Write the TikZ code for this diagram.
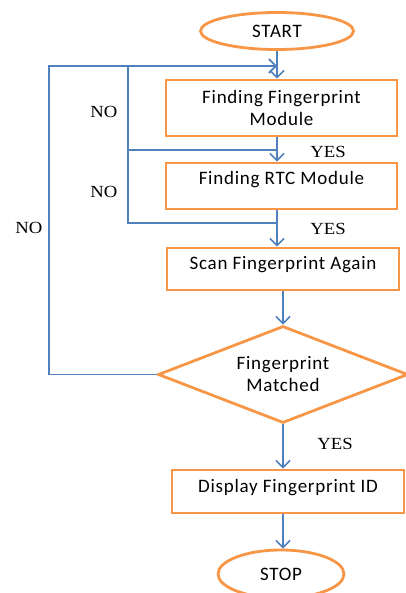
\documentclass[tikz,border=0pt]{standalone}
\usepackage{fontspec}
\setsansfont{Carlito}
\newfontfamily\lblfont{Liberation Serif}
\usetikzlibrary{shapes.geometric,arrows.meta}
\definecolor{flowblue}{HTML}{4F81BD}
\definecolor{floworange}{HTML}{F79646}
\begin{document}
\begin{tikzpicture}[x=0.5pt,y=-0.5pt,
    box/.style={draw=floworange,line width=1.4pt,inner sep=0pt,align=center,
      font=\sffamily\fontsize{9.5}{11}\selectfont\addfontfeature{LetterSpace=4}},
    term/.style={box,ellipse},
    flow/.style={draw=flowblue,line width=0.8pt},
    arr/.style={flow,-{Straight Barb[length=3.5pt,width=7pt]}},
    lbl/.style={font=\lblfont\fontsize{8.5}{10}\selectfont,inner sep=0pt}]
    \useasboundingbox (0,0) rectangle (406,593);
    % Блоки
    \node[term,minimum width=76.5pt,minimum height=18.5pt] (start) at (277,31) {START};
    \node[box,minimum width=115.5pt,minimum height=28pt] (findfp) at (281.5,108)
      {Finding Fingerprint\\Module};
    \node[box,minimum width=115.5pt,minimum height=23pt] (findrtc) at (281.5,186)
      {\raisebox{3pt}[\height][\depth]{Finding RTC Module}};
    \node[box,minimum width=116pt,minimum height=21pt] (scan) at (283,269)
      {\raisebox{2pt}[\height][\depth]{Scan Fingerprint Again}};
    \node[box,diamond,aspect=2.6,minimum width=125pt,minimum height=48.5pt] (match) at (283,374.5)
      {Fingerprint\\Matched};
    \node[box,minimum width=116pt,minimum height=21.5pt] (disp) at (288,491.5)
      {\raisebox{2pt}[\height][\depth]{Display Fingerprint ID}};
    \node[term,minimum width=63pt,minimum height=24pt] (stop) at (281,574) {STOP};
    % Основная линия
    \draw[arr] (start.south) -- (start.south |- findfp.north);
    \draw[arr] (findfp.south -| start.south) -- (findrtc.north -| start.south);
    \draw[arr] (findrtc.south -| start.south) -- (scan.north -| start.south);
    \draw[arr] (scan.south -| match.north) -- (match.north);
    \draw[arr] (match.south) -- (disp.north -| match.south);
    \draw[arr] (disp.south -| match.south) -- (stop.north -| match.south);
    % Возвраты
    \coordinate (outer) at (49,66);
    \coordinate (inner) at (128,66);
    \coordinate (rtcin) at (128,150);
    \coordinate (scanin) at (128,223);
    \draw[arr] (match.west) -| (outer) -- (outer -| start.south);
    \draw[flow] (inner) -- (scanin) -- (scanin -| start.south);
    \draw[flow] (rtcin) -- (rtcin -| start.south);
    % Подписи
    \node[lbl] (no1) at (104,112) {\scalebox{1.1}[1]{NO}};
    \node[lbl] (no2) at (104,192) {\scalebox{1.1}[1]{NO}};
    \node[lbl] (no3) at (29,228) {\scalebox{1.1}[1]{NO}};
    \node[lbl] (yes1) at (328,152) {\scalebox{1.1}[1]{YES}};
    \node[lbl] (yes2) at (328,229) {\scalebox{1.1}[1]{YES}};
    \node[lbl] (yes3) at (335,444) {\scalebox{1.1}[1]{YES}};
\end{tikzpicture}
\end{document}
